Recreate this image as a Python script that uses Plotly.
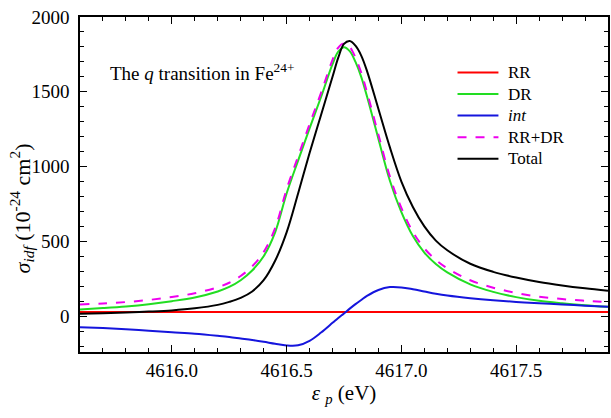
import plotly.graph_objects as go

energy = [4615.6, 4615.7, 4615.8, 4615.9, 4616.0, 4616.1, 4616.2, 4616.25, 4616.3, 4616.35,
          4616.4, 4616.45, 4616.5, 4616.55, 4616.6, 4616.65, 4616.7, 4616.725, 4616.75, 4616.775,
          4616.8, 4616.825, 4616.85, 4616.9, 4616.95, 4617.0, 4617.05, 4617.1, 4617.15, 4617.2,
          4617.3, 4617.4, 4617.5, 4617.6, 4617.7, 4617.8, 4617.9]

rr = [27] * len(energy)

dr = [45, 54, 65, 80, 100, 125, 165, 195, 240, 305,
      400, 560, 820, 1040, 1255, 1465, 1685, 1768, 1798, 1772,
      1700, 1600, 1470, 1185, 905, 695, 535, 425, 348, 292,
      212, 162, 127, 102, 86, 73, 62]

intf = [-74, -80, -88, -98, -108, -118, -132, -140, -150, -160,
        -172, -185, -196, -195, -165, -110, -45, -12, 18, 50,
        80, 108, 135, 175, 194, 192, 180, 165, 150, 138,
        120, 106, 95, 86, 78, 70, 62]

rrdr = [78, 84, 94, 108, 128, 153, 193, 223, 268, 333,
        428, 588, 848, 1068, 1283, 1493, 1713, 1796, 1824, 1800,
        1728, 1628, 1498, 1213, 933, 723, 563, 453, 376, 320,
        240, 190, 155, 130, 114, 103, 94]

total = [15, 19, 24, 30, 38, 52, 75, 95, 122, 165,
         240, 370, 560, 820, 1090, 1345, 1600, 1728, 1820, 1840,
         1808, 1742, 1640, 1385, 1128, 900, 730, 600, 505, 440,
         350, 296, 258, 228, 205, 186, 170]

names = ["RR", "DR", "<i>int</i>", "RR+DR", "Total"]
colors = ["#ff0000", "#22dd22", "#1515dd", "#ee00ee", "#000000"]
dashes = ["solid", "solid", "solid", "dash", "solid"]
values = [rr, dr, intf, rrdr, total]

FONT = "Liberation Serif"

fig = go.Figure()
for name, ys, color, dash in zip(names, values, colors, dashes):
    fig.add_trace(go.Scatter(
        x=energy, y=ys, mode="lines", name=name, showlegend=False,
        line=dict(color=color, width=2, dash=dash, shape="spline", smoothing=1.0),
    ))

# legend drawn as line samples + text in paper coordinates (tight row spacing as in the reference)
leg_x0, leg_x1, leg_tx = 0.715, 0.7925, 0.806
leg_y_top, leg_dy = 0.834, 0.0642
shapes = []
annotations = []
for i, (name, color, dash) in enumerate(zip(names, colors, dashes)):
    yy = leg_y_top - i * leg_dy
    shapes.append(dict(type="line", xref="paper", yref="paper", x0=leg_x0, x1=leg_x1, y0=yy, y1=yy,
                       line=dict(color=color, width=2, dash=dash)))
    annotations.append(dict(text=name, xref="paper", yref="paper", x=leg_tx, y=yy,
                            xanchor="left", yanchor="middle", showarrow=False,
                            font=dict(family=FONT, size=17, color="black")))

annotations.append(dict(
    text="The <i>q</i> transition in Fe<sup>24+</sup>",
    xref="paper", yref="paper", x=0.053, y=0.835, xanchor="left", yanchor="middle",
    showarrow=False, font=dict(family=FONT, size=19, color="black"),
))

# y-axis title placed as rotated text (centred lower than the plot centre, as in the reference)
annotations.append(dict(
    text="<i>σ</i><sub><i>idf</i></sub> (10<sup>-24</sup> cm<sup>2</sup>)",
    xref="paper", yref="paper", x=-0.109, y=0.43, xanchor="center", yanchor="middle",
    textangle=-90, showarrow=False, font=dict(family=FONT, size=22, color="black"),
))

axis_common = dict(
    showline=True, linecolor="black", linewidth=1.5, mirror="ticks",
    ticks="inside", tickcolor="black", ticklen=7, tickwidth=1.2,
    showgrid=False, zeroline=False,
    tickfont=dict(family=FONT, size=19, color="black"),
)

fig.update_layout(
    width=611, height=418,
    margin=dict(l=80, r=1, t=17, b=66),
    plot_bgcolor="white", paper_bgcolor="white",
    font=dict(family=FONT, color="black"),
    xaxis=dict(
        range=[4615.6, 4617.9], tick0=4616.0, dtick=0.5, tickformat=".1f",
        minor=dict(dtick=0.1, ticks="inside", ticklen=4, tickcolor="black", tickwidth=1),
        title=dict(text="<i>ε</i> <sub><i>p</i></sub> (eV)", font=dict(family=FONT, size=21), standoff=4),
        **axis_common,
    ),
    yaxis=dict(
        range=[-240, 2000], tick0=0, dtick=500,
        minor=dict(dtick=100, ticks="inside", ticklen=4, tickcolor="black", tickwidth=1),
        ticklabelstandoff=5,
        **axis_common,
    ),
    shapes=shapes,
    annotations=annotations,
)

fig.write_html("out.html")
